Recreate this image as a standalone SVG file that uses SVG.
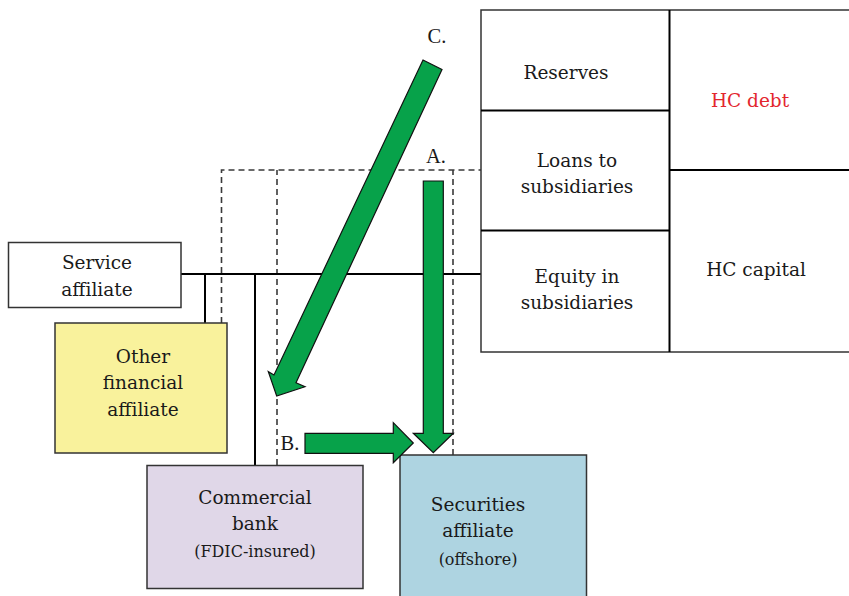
<svg xmlns="http://www.w3.org/2000/svg" width="849" height="596" viewBox="0 0 849 596">
<style>
text{font-family:"DejaVu Serif","Liberation Serif",serif;font-size:18.5px;fill:#1a1a1a;text-anchor:middle}
.sm{font-size:16px}
.box{stroke:#333;stroke-width:1.5}
.ln{stroke:#000;stroke-width:2;fill:none}
.dash{stroke:#3a3a3a;stroke-width:1.6;stroke-dasharray:6,4;fill:none}
.arrow{fill:#07a24a;stroke:#111;stroke-width:1.2;stroke-linejoin:miter}
.lab{font-family:"Liberation Serif",serif;font-size:20.5px}
</style>
<rect width="849" height="596" fill="#fff"/>
<g id="connectors">
<path class="dash" d="M221.5,323 V170 H481 M277,465 V170 M453,455 V170"/>
<path class="ln" d="M181,274 H481 M205,274 V323 M255,274 V465"/>
</g>
<g id="balance-sheet">
<rect x="481" y="10" width="370" height="342" fill="#fff" class="box"/>
<path class="ln" d="M669.5,10 V352 M481,110.5 H669.5 M481,230.5 H669.5 M669.5,170 H851"/>
<text x="566" y="79">Reserves</text>
<text x="750" y="107" style="fill:#e3262e">HC debt</text>
<text x="577" y="167">Loans to</text>
<text x="577" y="193">subsidiaries</text>
<text x="577" y="283">Equity in</text>
<text x="577" y="309">subsidiaries</text>
<text x="756" y="276">HC capital</text>
</g>
<g id="service-affiliate">
<rect x="8.5" y="242.5" width="172.5" height="65" fill="#fff" class="box"/>
<text x="97" y="269">Service</text>
<text x="97" y="296">affiliate</text>
</g>
<g id="other-financial-affiliate">
<rect x="55" y="323" width="172" height="130" fill="#f9f29c" class="box"/>
<text x="143" y="363">Other</text>
<text x="143" y="389">financial</text>
<text x="143" y="416">affiliate</text>
</g>
<g id="commercial-bank">
<rect x="147" y="465.5" width="216" height="123" fill="#e0d7e8" class="box"/>
<text x="255" y="504">Commercial</text>
<text x="255" y="530">bank</text>
<text x="255" y="557" class="sm">(FDIC-insured)</text>
</g>
<g id="securities-affiliate">
<rect x="400" y="455" width="186.5" height="145" fill="#aed4e1" class="box"/>
<text x="478" y="511">Securities</text>
<text x="478" y="537">affiliate</text>
<text x="478" y="565" class="sm">(offshore)</text>
</g>
<g id="arrows">
<polygon class="arrow" points="423.3,181 443.3,181 443.3,433.3 453.3,433.3 433.3,452.7 413.3,433.3 423.3,433.3"/>
<polygon class="arrow" points="305,433.3 393.3,433.3 393.3,422.7 413.3,443 393.3,462.7 393.3,453.3 305,453.3"/>
<polygon class="arrow" points="423,60 442,69.5 296,382.7 305,386.7 276.7,396 268.3,371.7 274,375"/>
<text class="lab" x="437" y="43">C.</text>
<text class="lab" x="436" y="163">A.</text>
<text class="lab" x="290" y="450">B.</text>
</g>
</svg>
